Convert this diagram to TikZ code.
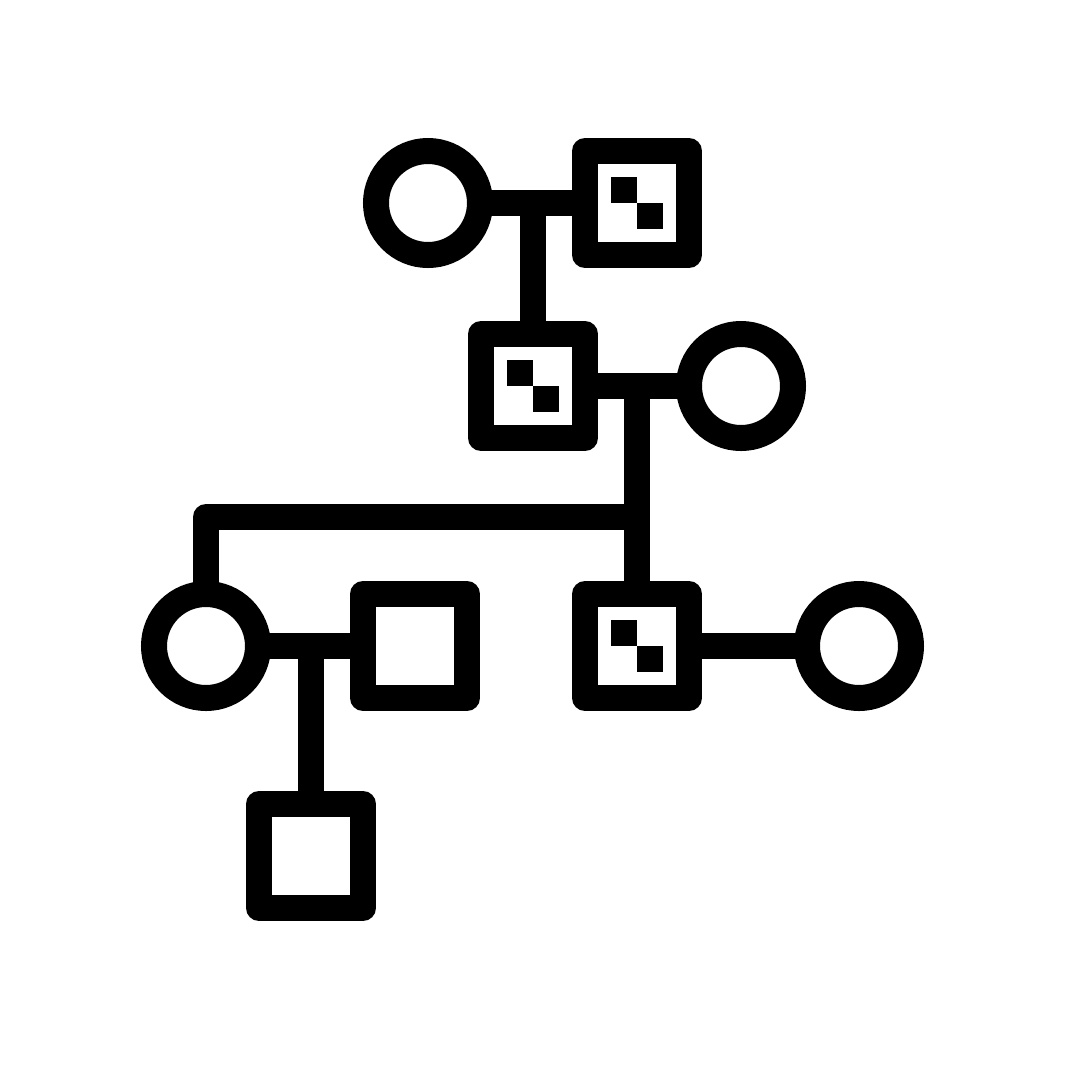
\documentclass[tikz,border=0pt]{standalone}
\begin{document}
\begin{tikzpicture}[x=1pt,y=-1pt,
  line width=26pt,
  male/.style={draw,rectangle,minimum size=104pt,inner sep=0pt,line join=round},
  female/.style={draw,circle,minimum size=104pt,inner sep=0pt},
  link/.style={draw,line cap=butt,line join=round}]
\fill[white] (0,0) rectangle (1080,1080);
\useasboundingbox (0,0) rectangle (1080,1080);
% generation 1
\node[female] (f1) at (428,203) {};
\node[male] (m1) at (637,203) {};
% generation 2
\node[male] (m2) at (533,386) {};
\node[female] (f2) at (741,386) {};
% generation 3
\node[female] (f3) at (206,646) {};
\node[male] (m3) at (415,646) {};
\node[male] (m4) at (637,646) {};
\node[female] (f4) at (859,646) {};
% generation 4
\node[male] (m5) at (311,856) {};
% marriage lines
\draw[link] ([xshift=-4pt]f1.east) -- (m1.west);
\draw[link] (m2.east) -- ([xshift=4pt]f2.west);
\draw[link] ([xshift=-4pt]f3.east) -- (m3.west);
\draw[link] (m4.east) -- ([xshift=4pt]f4.west);
% descent lines
\draw[link] (m2.north |- f1.center) -- (m2.north);
\draw[link] (m4.north |- m2.center) -- (m4.north);
\coordinate (sib) at (637,517);
\draw[link] (sib) -| ([yshift=-4pt]f3.north);
\draw[link] (m5.north |- f3.center) -- (m5.north);
% markers
\foreach \n in {m1,m2,m4}{
  \fill ([shift={(-26,-26)}]\n.center) rectangle (\n.center);
  \fill (\n.center) rectangle ([shift={(26,26)}]\n.center);
}
\end{tikzpicture}
\end{document}
